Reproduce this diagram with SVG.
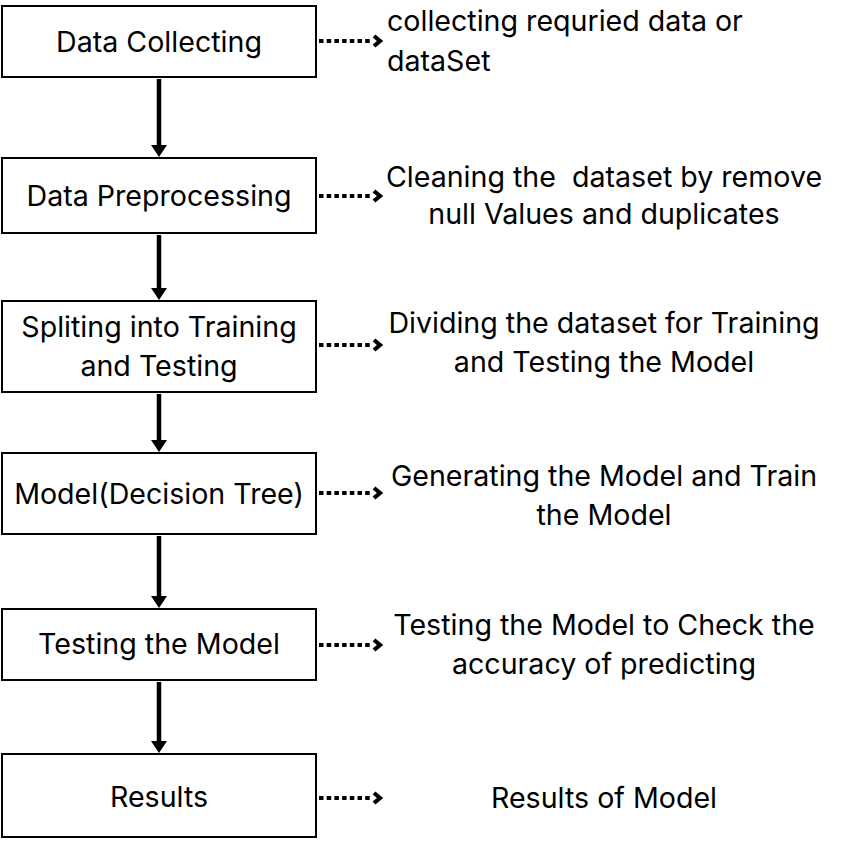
<svg xmlns="http://www.w3.org/2000/svg" width="849" height="841" viewBox="0 0 849 841">
<defs>
<style>
.box{fill:#ffffff;stroke:#000000;stroke-width:2}
.t{font-family:Inter,"Open Sans","Liberation Sans",sans-serif;font-size:28.6px;font-weight:370;fill:#000000}
.c{text-anchor:middle}
.flow{stroke:#000000;stroke-width:4.5;fill:none}
.dot{stroke:#000000;stroke-width:4.2;stroke-dasharray:4.5 3.2;fill:none}
.chev{stroke:#000000;stroke-width:4.2;fill:none;stroke-linejoin:miter}
.head{fill:#000000}
</style>
</defs>
<rect width="849" height="841" fill="#ffffff"/>
<g id="connectors">
<line class="flow" x1="159" y1="79" x2="159" y2="146"/>
<polygon class="head" points="151,145 167,145 159,157"/>
<line class="flow" x1="159" y1="235" x2="159" y2="289"/>
<polygon class="head" points="151,288 167,288 159,300"/>
<line class="flow" x1="159" y1="394" x2="159" y2="441"/>
<polygon class="head" points="151,440 167,440 159,452"/>
<line class="flow" x1="159" y1="536" x2="159" y2="597"/>
<polygon class="head" points="151,596 167,596 159,608"/>
<line class="flow" x1="159" y1="682" x2="159" y2="742"/>
<polygon class="head" points="151,741 167,741 159,753"/>
<line class="dot" x1="319" y1="41" x2="372" y2="41"/>
<polyline class="chev" points="374,36 380,41 374,46"/>
<line class="dot" x1="319" y1="196" x2="372" y2="196"/>
<polyline class="chev" points="374,191 380,196 374,201"/>
<line class="dot" x1="319" y1="345" x2="372" y2="345"/>
<polyline class="chev" points="374,340 380,345 374,350"/>
<line class="dot" x1="319" y1="493" x2="372" y2="493"/>
<polyline class="chev" points="374,488 380,493 374,498"/>
<line class="dot" x1="319" y1="645" x2="372" y2="645"/>
<polyline class="chev" points="374,640 380,645 374,650"/>
<line class="dot" x1="319" y1="798" x2="372" y2="798"/>
<polyline class="chev" points="374,793 380,798 374,803"/>
</g>
<g id="n1">
<rect class="box" x="2" y="6" width="314" height="71"/>
<text class="t c" x="159" y="52">Data Collecting</text>
</g>
<g id="n2">
<rect class="box" x="2" y="158" width="314" height="75"/>
<text class="t c" x="159" y="206">Data Preprocessing</text>
</g>
<g id="n3">
<rect class="box" x="2" y="301" width="314" height="91"/>
<text class="t c" x="159" y="337">Spliting into Training</text>
<text class="t c" x="159" y="376">and Testing</text>
</g>
<g id="n4">
<rect class="box" x="2" y="453" width="314" height="81"/>
<text class="t c" x="159" y="504">Model(Decision Tree)</text>
</g>
<g id="n5">
<rect class="box" x="2" y="609" width="314" height="71"/>
<text class="t c" x="159" y="654">Testing the Model</text>
</g>
<g id="n6">
<rect class="box" x="2" y="754" width="314" height="83"/>
<text class="t c" x="159" y="807">Results</text>
</g>
<g id="d1">
<text class="t" x="387" y="31">collecting requried data or</text>
<text class="t" x="387" y="71">dataSet</text>
</g>
<g id="d2">
<text class="t c" x="604" y="187" xml:space="preserve">Cleaning the  dataset by remove</text>
<text class="t c" x="604" y="224">null Values and duplicates</text>
</g>
<g id="d3">
<text class="t c" x="604" y="333">Dividing the dataset for Training</text>
<text class="t c" x="604" y="372">and Testing the Model</text>
</g>
<g id="d4">
<text class="t c" x="604" y="486">Generating the Model and Train</text>
<text class="t c" x="604" y="525">the Model</text>
</g>
<g id="d5">
<text class="t c" x="604" y="635">Testing the Model to Check the</text>
<text class="t c" x="604" y="674">accuracy of predicting</text>
</g>
<g id="d6">
<text class="t c" x="604" y="808">Results of Model</text>
</g>
</svg>
